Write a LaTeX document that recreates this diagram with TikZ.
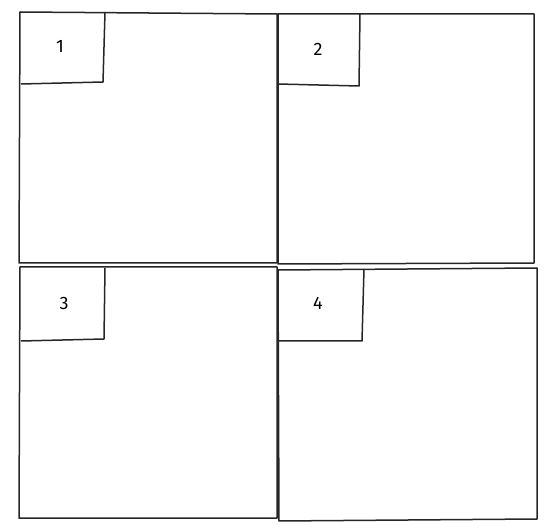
\documentclass[tikz,border=0pt]{standalone}
\usepackage{fontspec}
\setmainfont{Fira Sans}
\usepackage{tikz}
\tikzstyle{Panel}=[draw=black!85,line width=1.5pt,line join=round]
\tikzstyle{Tag}=[draw=black!85,line width=1.5pt,line join=round]
\tikzstyle{NodeTag}=[font=\fontsize{18}{18}\selectfont,inner sep=0pt]

\begin{document}
\begin{tikzpicture}[x=1pt,y=-1pt]
        \useasboundingbox(0,0)rectangle(558,532);
        % panels
        \draw[Panel](20,12)--(277,14)--(277,263)--(19,263)--cycle;
        \draw[Panel](278,14)--(534,14)--(534,263)--(278,264)--cycle;
        \draw[Panel](20,267)--(277,267)--(277,518)--(19,518)--cycle;
        \draw[Panel](278,270)--(537,268)--(537,519)--(279,521)--cycle;
        % tags
        \draw[Tag](105,12)--(103,82)--(21,84);
        \draw[Tag](360,14)--(359,86)--(278,84);
        \draw[Tag](105,268)--(104,339)--(21,341);
        \draw[Tag](364,269)--(362,341)--(279,341);
        \node[NodeTag](1)at(60,46){1};
        \node[NodeTag](2)at(318,49){2};
        \node[NodeTag](3)at(64,303){3};
        \node[NodeTag](4)at(318,303){4};
    \end{tikzpicture}
\end{document}
